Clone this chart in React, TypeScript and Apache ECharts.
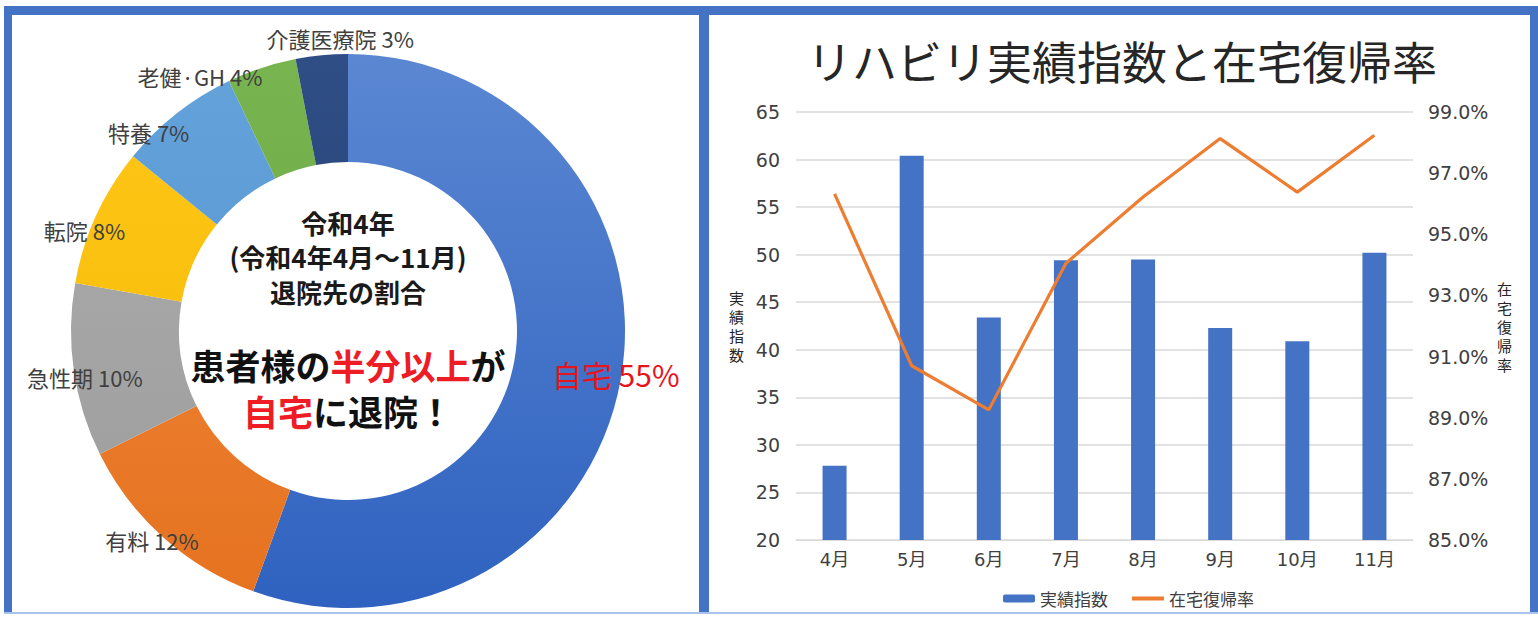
import React, { useEffect, useRef } from "react";
import * as echarts from "echarts";

// ---- Pie data (退院先の割合) ----
const pieNames = ["自宅", "有料", "急性期", "転院", "特養", "老健·GH", "介護医療院"];
const pieValues = [55, 12, 10, 8, 7, 4, 3];

// ---- Bar / line data ----
const months = ["4月", "5月", "6月", "7月", "8月", "9月", "10月", "11月"];
const indexValues = [27.8, 60.4, 43.4, 49.4, 49.5, 42.3, 40.9, 50.2];
const homeRates = [0.9632, 0.907, 0.8926, 0.9405, 0.9622, 0.9813, 0.9638, 0.9824];

// axis ranges
const leftMin = 20;
const leftMax = 65;
const leftStep = 5;
const rightMin = 0.85;
const rightMax = 0.99;
const rightStep = 0.02;

// slice colours (top -> bottom gradient)
const sliceColors: [string, string][] = [
  ["#5b87d2", "#2f62c0"],
  ["#f28b40", "#e5721f"],
  ["#adadad", "#9c9c9c"],
  ["#ffc71a", "#f5b800"],
  ["#64a2da", "#5092cf"],
  ["#78b450", "#66a23e"],
  ["#2f4e85", "#223e70"],
];
// label placement tweaks (best-fit style nudges, px) relative to mid-angle position
const labelNudges: [number, number][] = [
  [-10, -6], [-8, -1], [16, 6], [-7, 16], [-25, 23], [-60, 13], [19, -12],
];

const BLUE = "#4472C4";
const ORANGE = "#ED7D31";
const CJK = "'Noto Sans CJK JP', 'Noto Sans', sans-serif";
const NUM = "'DejaVu Sans', 'Noto Sans CJK JP', sans-serif";

export default function App() {
  const ref = useRef<HTMLDivElement>(null);

  useEffect(() => {
    if (!ref.current) return;
    const chart = echarts.init(ref.current, null, { renderer: "svg" });

    const pieCx = 348;
    const pieCy = 331;
    const rInner = 169;
    const rOuter = 277;
    const rLabel = 282;

    const pieData = pieNames.map((n, i) => ({
      name: n,
      value: pieValues[i],
      itemStyle: {
        color: new echarts.graphic.LinearGradient(
          0, pieCy - rOuter, 0, pieCy + rOuter,
          [
            { offset: 0, color: sliceColors[i][0] },
            { offset: 1, color: sliceColors[i][1] },
          ],
          true
        ),
      },
    }));

    // slice labels, placed from the data's mid-angles
    const total = pieValues.reduce((a, b) => a + b, 0);
    let acc = 0;
    const labelTexts = pieNames.map((n, i) => {
      const mid = ((acc + pieValues[i] / 2) / total) * Math.PI * 2;
      acc += pieValues[i];
      const x = pieCx + rLabel * Math.sin(mid) + labelNudges[i][0];
      const y = pieCy - rLabel * Math.cos(mid) + labelNudges[i][1];
      const main = i === 0;
      return {
        type: "text",
        x,
        y,
        z: 60,
        silent: true,
        style: {
          text: `${n} ${pieValues[i]}%`,
          font: `normal ${main ? 30 : 22}px ${CJK}`,
          fill: main ? "#e8141c" : "#404040",
          textAlign: "center",
          textVerticalAlign: "middle",
        },
      };
    });

    const borderColor = "#4472C4";
    const richCenter = {
      k: { fontFamily: CJK, fontWeight: "bold", fontSize: 35, fill: "#111111" },
      r: { fontFamily: CJK, fontWeight: "bold", fontSize: 35, fill: "#ee1c25" },
    };

    const option: any = {
      animation: false,
      backgroundColor: "#ffffff",
      graphic: [
        // frame
        { type: "rect", shape: { x: 4, y: 6, width: 1530, height: 9 }, style: { fill: borderColor }, z: 100 },
        { type: "rect", shape: { x: 4, y: 6, width: 8, height: 608 }, style: { fill: borderColor }, z: 100 },
        { type: "rect", shape: { x: 699, y: 6, width: 10, height: 608 }, style: { fill: borderColor }, z: 100 },
        { type: "rect", shape: { x: 1530, y: 6, width: 8, height: 608 }, style: { fill: borderColor }, z: 100 },
        { type: "rect", shape: { x: 4, y: 612, width: 1534, height: 2 }, style: { fill: "#a9c4ea" }, z: 100 },
        // center texts of donut
        {
          type: "text", x: pieCx, y: 222, z: 50,
          style: { text: "令和4年", font: `bold 26px ${CJK}`, fill: "#1a1a1a", textAlign: "center", textVerticalAlign: "middle" },
        },
        {
          type: "text", x: pieCx, y: 256, z: 50,
          style: { text: "(令和4年4月～11月)", font: `bold 26px ${CJK}`, fill: "#1a1a1a", textAlign: "center", textVerticalAlign: "middle" },
        },
        {
          type: "text", x: pieCx, y: 291, z: 50,
          style: { text: "退院先の割合", font: `bold 26px ${CJK}`, fill: "#1a1a1a", textAlign: "center", textVerticalAlign: "middle" },
        },
        {
          type: "text", x: pieCx, y: 364, z: 50,
          style: {
            text: "{k|患者様の}{r|半分以上}{k|が}",
            textAlign: "center", textVerticalAlign: "middle",
            rich: richCenter,
          },
        },
        {
          type: "text", x: pieCx, y: 410, z: 50,
          style: {
            text: "{r|自宅}{k|に退院！}",
            textAlign: "center", textVerticalAlign: "middle",
            rich: richCenter,
          },
        },
        ...labelTexts,
        // right chart title
        {
          type: "text", x: 1122, y: 60, z: 50,
          style: { text: "リハビリ実績指数と在宅復帰率", font: `normal 45px ${CJK}`, fill: "#262626", textAlign: "center", textVerticalAlign: "middle" },
        },
      ],
      grid: { left: 796, right: 125, top: 112, bottom: 78, containLabel: false },
      legend: {
        left: 998,
        top: 585,
        itemWidth: 32,
        itemHeight: 8,
        itemGap: 22,
        textStyle: { fontFamily: CJK, fontSize: 17, color: "#404040" },
        data: [
          { name: "実績指数" },
          { name: "在宅復帰率", itemStyle: { opacity: 0 }, lineStyle: { width: 4 } },
        ],
      },
      xAxis: {
        type: "category",
        data: months,
        axisLine: { lineStyle: { color: "#d9d9d9" } },
        axisTick: { show: false },
        axisLabel: { fontFamily: NUM, fontSize: 18, color: "#404040", margin: 10 },
      },
      yAxis: [
        {
          type: "value",
          min: leftMin,
          max: leftMax,
          interval: leftStep,
          name: "実\n績\n指\n数",
          nameLocation: "middle",
          nameRotate: 0,
          nameGap: 52,
          nameTextStyle: { fontFamily: CJK, fontSize: 15, lineHeight: 19, color: "#262626" },
          axisLine: { show: false },
          axisTick: { show: false },
          axisLabel: { fontFamily: NUM, fontSize: 19, color: "#404040", margin: 16 },
          splitLine: { lineStyle: { color: "#d9d9d9", width: 1.5 } },
        },
        {
          type: "value",
          min: rightMin,
          max: rightMax,
          interval: rightStep,
          name: "在\n宅\n復\n帰\n率",
          nameLocation: "middle",
          nameRotate: 0,
          nameGap: 84,
          nameTextStyle: { fontFamily: CJK, fontSize: 15, lineHeight: 19, color: "#262626" },
          axisLine: { show: false },
          axisTick: { show: false },
          splitLine: { show: false },
          axisLabel: {
            fontFamily: NUM, fontSize: 19, color: "#404040", margin: 15,
            formatter: (v: number) => (v * 100).toFixed(1) + "%",
          },
        },
      ],
      series: [
        {
          type: "pie",
          name: "退院先",
          center: [pieCx, pieCy],
          radius: [rInner, rOuter],
          startAngle: 90,
          clockwise: true,
          label: { show: false },
          labelLine: { show: false },
          data: pieData,
          silent: true,
        },
        {
          type: "bar",
          name: "実績指数",
          xAxisIndex: 0,
          yAxisIndex: 0,
          data: indexValues,
          barWidth: 24,
          itemStyle: { color: BLUE },
        },
        {
          type: "line",
          name: "在宅復帰率",
          xAxisIndex: 0,
          yAxisIndex: 1,
          data: homeRates,
          symbol: "none",
          lineStyle: { color: ORANGE, width: 3.2 },
          itemStyle: { color: ORANGE },
        },
      ],
    };

    chart.setOption(option);
    return () => chart.dispose();
  }, []);

  return (
    <div
      ref={ref}
      style={{ position: "fixed", left: 0, top: 0, width: 1538, height: 618, background: "#fff" }}
    />
  );
}
